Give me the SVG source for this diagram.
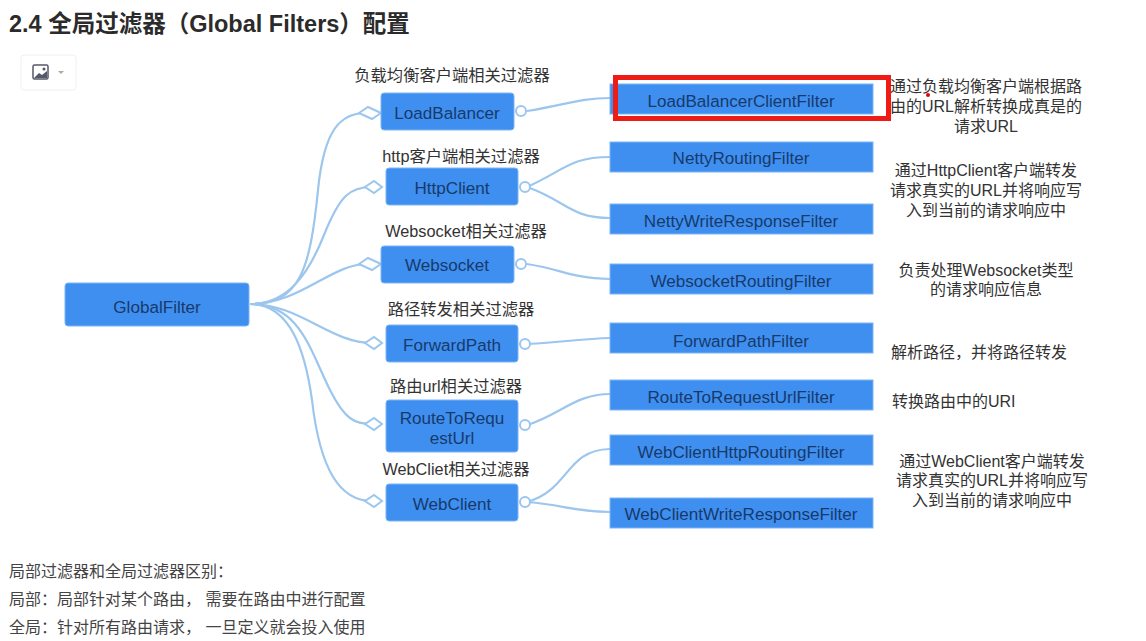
<svg xmlns="http://www.w3.org/2000/svg" width="1146" height="641" viewBox="0 0 1146 641">
<style>
text{font-family:"Liberation Sans","Noto Sans CJK SC",sans-serif}
.box{fill:#3f8ff0;stroke:#7db5f5;stroke-width:1}
.lbl{font-size:17.1px;fill:#173a6b;text-anchor:middle}
.cap{font-size:16.3px;fill:#333;text-anchor:middle}
.note{font-size:16px;fill:#333;text-anchor:middle}
.foot{font-size:16px;fill:#444}
.c{fill:none;stroke:#9cc6ee;stroke-width:2.2}
.dia{fill:#fff;stroke:#9cc6ee;stroke-width:2}
.dot{fill:#fff;stroke:#9cc6ee;stroke-width:2}
</style>
<rect width="1146" height="641" fill="#fff"/>
<text x="9" y="32" font-size="23.5" font-weight="700" fill="#2b2b2b">2.4 全局过滤器（Global Filters）配置</text>
<g id="toolbar">
<rect x="21" y="55" width="55" height="35" rx="3" fill="#fff" stroke="#f0f0f0"/>
<rect x="33" y="65" width="15" height="14" rx="1.5" fill="#fff" stroke="#55586a" stroke-width="1.5"/>
<path d="M34 78l5-5 3 2 5-4v7z" fill="#55586a"/>
<circle cx="44" cy="69" r="1.5" fill="#55586a"/>
<path d="M58 71h6l-3 3z" fill="#aaa"/>
</g>
<g id="connectors">
<path class="c" d="M250 304C300 304 310 270 318 190C324 130 340 113 366 113"/>
<path class="c" d="M250 304C290 304 310 270 324 235C340 195 350 187 372 187"/>
<path class="c" d="M250 304C300 304 330 265 366 264"/>
<path class="c" d="M250 304C300 304 330 343 372 343"/>
<path class="c" d="M250 304C300 304 310 350 330 390C345 420 355 424 372 424"/>
<path class="c" d="M250 304C290 304 305 350 312 400C320 470 340 501 372 501"/>
<path class="c" d="M527 111C565 105 580 98 610 98"/>
<path class="c" d="M527 187C565 170 570 157 610 157"/>
<path class="c" d="M527 187C565 200 570 218 610 218"/>
<path class="c" d="M527 264C565 270 570 278 610 279"/>
<path class="c" d="M527 344C565 342 580 339 610 338"/>
<path class="c" d="M527 425C560 415 575 394 610 394"/>
<path class="c" d="M527 502C570 490 565 450 610 449"/>
<path class="c" d="M527 502C565 505 570 511 610 512"/>
<path class="dia" d="M359 113l9-6 13 6-9 6z"/>
<path class="dia" d="M365 187l9-6 8 6-8 6z"/>
<path class="dia" d="M359 264l9-6 13 6-9 6z"/>
<path class="dia" d="M365 343l9-6 8 6-8 6z"/>
<path class="dia" d="M365 424l9-6 8 6-8 6z"/>
<path class="dia" d="M365 501l9-6 8 6-8 6z"/>
<circle class="dot" cx="521" cy="111" r="5"/>
<circle class="dot" cx="525" cy="187" r="5"/>
<circle class="dot" cx="521" cy="264" r="5"/>
<circle class="dot" cx="525" cy="344" r="5"/>
<circle class="dot" cx="525" cy="425" r="5"/>
<circle class="dot" cx="525" cy="502" r="5"/>
</g>
<g id="n-global"><rect class="box" x="65" y="283" width="184" height="43" rx="3"/><text class="lbl" x="157" y="313">GlobalFilter</text></g>
<g id="n-lb"><text class="cap" x="452" y="81">负载均衡客户端相关过滤器</text><rect class="box" x="381" y="93" width="133" height="37" rx="3"/><text class="lbl" x="447" y="119">LoadBalancer</text></g>
<g id="n-http"><text class="cap" x="461" y="162">http客户端相关过滤器</text><rect class="box" x="386" y="168" width="132" height="37" rx="3"/><text class="lbl" x="452" y="194">HttpClient</text></g>
<g id="n-ws"><text class="cap" x="466" y="237">Websocket相关过滤器</text><rect class="box" x="381" y="246" width="133" height="37" rx="3"/><text class="lbl" x="447" y="271">Websocket</text></g>
<g id="n-fp"><text class="cap" x="461" y="315">路径转发相关过滤器</text><rect class="box" x="386" y="325" width="132" height="37" rx="3"/><text class="lbl" x="452" y="351">ForwardPath</text></g>
<g id="n-rt"><text class="cap" x="456" y="392">路由url相关过滤器</text><rect class="box" x="386" y="400" width="132" height="52" rx="3"/><text class="lbl" x="452" y="424">RouteToRequ</text><text class="lbl" x="452" y="444">estUrl</text></g>
<g id="n-wc"><text class="cap" x="456" y="475">WebCliet相关过滤器</text><rect class="box" x="386" y="484" width="132" height="37" rx="3"/><text class="lbl" x="452" y="510">WebClient</text></g>
<g id="f-lb"><rect class="box" x="610" y="84" width="263" height="30"/><text class="lbl" x="741" y="107">LoadBalancerClientFilter</text></g>
<g id="f-nr"><rect class="box" x="610" y="142" width="263" height="30"/><text class="lbl" x="741" y="164">NettyRoutingFilter</text></g>
<g id="f-nw"><rect class="box" x="610" y="204" width="263" height="30"/><text class="lbl" x="741" y="227">NettyWriteResponseFilter</text></g>
<g id="f-ws"><rect class="box" x="610" y="264" width="263" height="30"/><text class="lbl" x="741" y="287">WebsocketRoutingFilter</text></g>
<g id="f-fp"><rect class="box" x="610" y="323" width="263" height="30"/><text class="lbl" x="741" y="347">ForwardPathFilter</text></g>
<g id="f-rt"><rect class="box" x="610" y="380" width="263" height="30"/><text class="lbl" x="741" y="403">RouteToRequestUrlFilter</text></g>
<g id="f-wh"><rect class="box" x="610" y="435" width="263" height="30"/><text class="lbl" x="741" y="458">WebClientHttpRoutingFilter</text></g>
<g id="f-ww"><rect class="box" x="610" y="498" width="263" height="30"/><text class="lbl" x="741" y="520">WebClientWriteResponseFilter</text></g>
<rect id="highlight" x="615.5" y="77.5" width="273" height="41" fill="none" stroke="#ee1c14" stroke-width="5"/>
<circle cx="928" cy="95" r="2" fill="#e00"/>
<g id="notes">
<text class="note" x="986" y="92">通过负载均衡客户端根据路</text><text class="note" x="986" y="112">由的URL解析转换成真是的</text><text class="note" x="986" y="132">请求URL</text>
<text class="note" x="986" y="176">通过HttpClient客户端转发</text><text class="note" x="986" y="196">请求真实的URL并将响应写</text><text class="note" x="986" y="216">入到当前的请求响应中</text>
<text class="note" x="986" y="276">负责处理Websocket类型</text><text class="note" x="986" y="295">的请求响应信息</text>
<text x="891" y="358" font-size="16" fill="#333">解析路径，并将路径转发</text>
<text x="892" y="407" font-size="16" fill="#333">转换路由中的URI</text>
<text class="note" x="992" y="467">通过WebClient客户端转发</text><text class="note" x="992" y="486">请求真实的URL并将响应写</text><text class="note" x="992" y="506">入到当前的请求响应中</text>
</g>
<text class="foot" x="9" y="577">局部过滤器和全局过滤器区别：</text>
<text class="foot" x="9" y="605">局部：局部针对某个路由， 需要在路由中进行配置</text>
<text class="foot" x="9" y="633">全局：针对所有路由请求， 一旦定义就会投入使用</text>
</svg>
